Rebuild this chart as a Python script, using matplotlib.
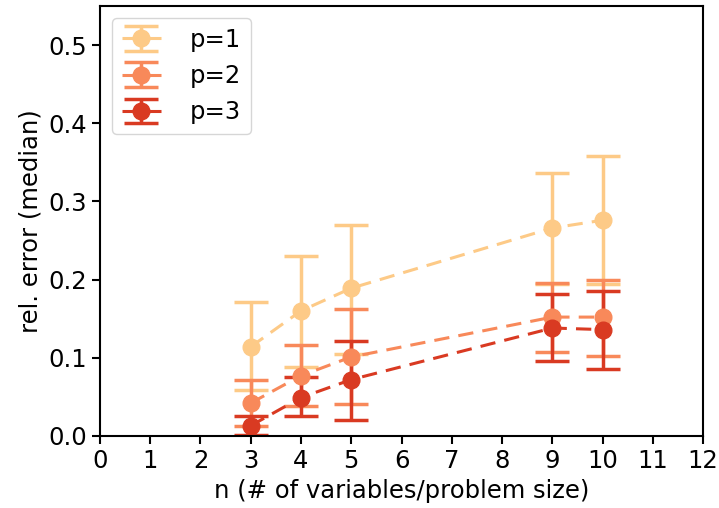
import numpy as np
import matplotlib.pyplot as plt

n = [3, 4, 5, 9, 10]

# median rel. error and error bar limits per p
p1_med = [0.114, 0.160, 0.189, 0.266, 0.276]
p1_hi = [0.171, 0.230, 0.270, 0.336, 0.358]
p1_lo = [0.059, 0.088, 0.105, 0.194, 0.194]

p2_med = [0.042, 0.077, 0.101, 0.152, 0.152]
p2_hi = [0.072, 0.116, 0.162, 0.196, 0.200]
p2_lo = [0.012, 0.038, 0.041, 0.107, 0.102]

p3_med = [0.013, 0.049, 0.072, 0.138, 0.136]
p3_hi = [0.026, 0.075, 0.122, 0.181, 0.186]
p3_lo = [0.001, 0.025, 0.020, 0.096, 0.085]

labels = ['p=1', 'p=2', 'p=3']
colors = ['#fdca87', '#f8895a', '#d93a22']

fig = plt.figure(figsize=(7.19, 5.08), dpi=100)
ax = fig.add_axes([0.139, 0.142, 0.839, 0.846])

series = [(p1_med, p1_lo, p1_hi), (p2_med, p2_lo, p2_hi), (p3_med, p3_lo, p3_hi)]
for (med, lo, hi), lab, c in zip(series, labels, colors):
    med = np.array(med)
    yerr = [med - np.array(lo), np.array(hi) - med]
    ax.errorbar(n, med, yerr=yerr, fmt='o', ls=(0, (5, 3)), color=c, label=lab,
                markersize=12, capsize=12, capthick=2.5, elinewidth=2.5,
                linewidth=2.2)

ax.set_xlim(0, 12)
ax.set_ylim(0, 0.55)
ax.set_xticks(range(0, 13))
ax.set_yticks([0.0, 0.1, 0.2, 0.3, 0.4, 0.5])
ax.tick_params(labelsize=17.5, width=1.5, length=6)
for s in ax.spines.values():
    s.set_linewidth(1.5)
ax.set_xlabel('n (# of variables/problem size)', fontsize=17.5)
ax.set_ylabel('rel. error (median)', fontsize=17.5)
ax.legend(loc='upper left', fontsize=17.5, handlelength=1.6, handletextpad=1.2)

fig.savefig('out.png', dpi=100)
